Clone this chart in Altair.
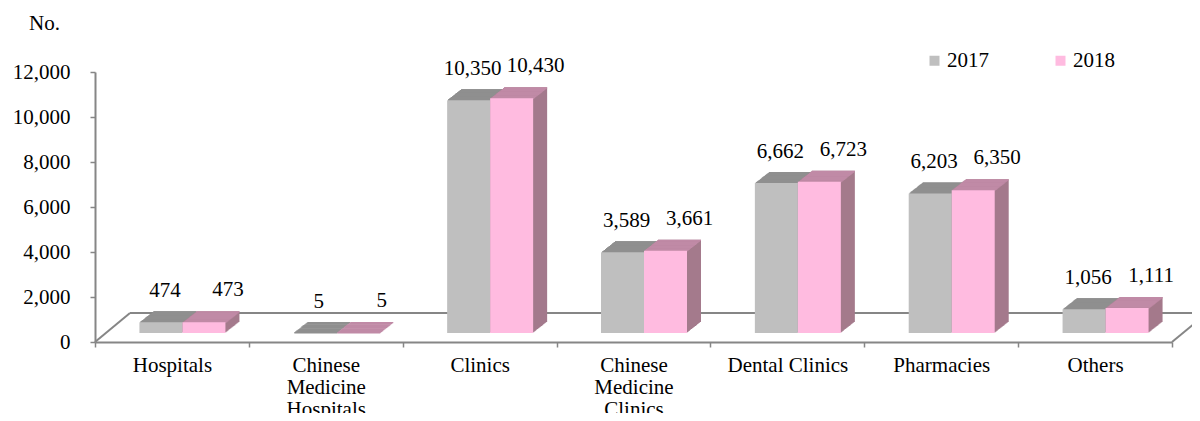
import altair as alt
import pandas as pd

# ---- data ----
categories = ["Hospitals", "Chinese\nMedicine\nHospitals", "Clinics",
              "Chinese\nMedicine\nClinics", "Dental Clinics", "Pharmacies", "Others"]
years = ["2017", "2018"]
values_2017 = [474, 5, 10350, 3589, 6662, 6203, 1056]
values_2018 = [473, 5, 10430, 3661, 6723, 6350, 1111]
y_ticks = [0, 2000, 4000, 6000, 8000, 10000, 12000]

# ---- styles ----
front_colors = ["#bfbfbf", "#ffbbe0"]
top_colors = ["#8f8f8f", "#c08aa6"]
side_colors = ["#7f7f7f", "#a47a8c"]
AXIS_COLOR = "#868686"
FONT = "Liberation Serif"
FS = 21

W, H = 1077, 270
BAR_W = 43
FRONT_X = [-11, 32]      # front-face centre offset from category centre (px)
LABEL_DX = [-7, 56]
LABEL_DY = [-34, -35]
LIFT = 9                 # bars stand in the middle of the floor depth
DEPTH_X, DEPTH_Y, STEPS = 14, 11, 14
FLOOR_DX, FLOOR_DY = 35, 29

rows = []
for c, a, b in zip(categories, values_2017, values_2018):
    rows.append({"category": c, "year": "2017", "value": a})
    rows.append({"category": c, "year": "2018", "value": b})
df = pd.DataFrame(rows)

x_enc = alt.X(
    "category:N", sort=categories,
    scale=alt.Scale(paddingInner=0, paddingOuter=0),
    axis=alt.Axis(title=None, labelAngle=0,
                  labelExpr="isValid(datum.value) ? split(datum.value, '\\n') : ''",
                  labelLineHeight=22, labelFont=FONT, labelFontSize=FS, labelColor="black",
                  labelBaseline="top", labelPadding=7, tickBand="extent", tickSize=5,
                  tickColor=AXIS_COLOR, tickWidth=1.5, domainColor=AXIS_COLOR, domainWidth=2,
                  labelLimit=300),
)
y_enc = alt.Y(
    "value:Q",
    scale=alt.Scale(domain=[0, 12000], nice=False, zero=True),
    axis=alt.Axis(values=y_ticks, format=",d", grid=False, labelFont=FONT, labelFontSize=FS,
                  labelColor="black", labelPadding=20, tickSize=5, tickColor=AXIS_COLOR,
                  tickWidth=1.5, domainColor=AXIS_COLOR, domainWidth=2,
                  title="No.", titleAngle=0, titleX=-51, titleY=-43, titleAlign="center",
                  titleBaseline="alphabetic", titleFont=FONT, titleFontSize=FS,
                  titleFontWeight="normal", titleColor="black"),
)

one = pd.DataFrame({"d": [0]})
floor_style = dict(color=AXIS_COLOR, strokeWidth=2)
floor = alt.layer(
    alt.Chart(one).mark_rule(**floor_style).encode(
        x=alt.value(FLOOR_DX), x2=alt.value(W + 60),
        y=alt.value(H - FLOOR_DY)),
    alt.Chart(one).mark_rule(**floor_style).encode(
        x=alt.value(0), x2=alt.value(FLOOR_DX),
        y=alt.value(H), y2=alt.value(H - FLOOR_DY)),
    alt.Chart(one).mark_rule(**floor_style).encode(
        x=alt.value(W), x2=alt.value(W + FLOOR_DX),
        y=alt.value(H), y2=alt.value(H - FLOOR_DY)),
)

layers = [floor]
ddx = DEPTH_X / STEPS
ddy = DEPTH_Y / STEPS
for i, yr in enumerate(years):
    base = alt.Chart(df).transform_filter(alt.datum.year == yr)
    # side (extrusion)
    for k in range(STEPS, 0, -1):
        off = -LIFT - k * ddy
        layers.append(base.mark_bar(width=BAR_W, color=side_colors[i],
                                    xOffset=FRONT_X[i] + k * ddx,
                                    yOffset=off, y2Offset=off).encode(
            x=x_enc, y=y_enc, y2=alt.datum(0)))
    # top face
    for k in range(STEPS, 0, -1):
        layers.append(base.mark_bar(width=BAR_W, color=top_colors[i],
                                    xOffset=FRONT_X[i] + k * ddx,
                                    yOffset=-LIFT - k * ddy,
                                    y2Offset=-LIFT - (k - 1) * ddy + 0.6).encode(
            x=x_enc, y=y_enc, y2="value:Q"))
    # front face
    layers.append(base.mark_bar(width=BAR_W, xOffset=FRONT_X[i],
                                yOffset=-LIFT, y2Offset=-LIFT).encode(
        x=x_enc, y=y_enc, y2=alt.datum(0),
        color=alt.Color("year:N", scale=alt.Scale(domain=years, range=front_colors),
                        legend=alt.Legend(title=None, orient="none", legendX=829, legendY=-22,
                                          direction="horizontal", symbolType="square",
                                          symbolSize=100, symbolStrokeWidth=0,
                                          labelFont=FONT, labelFontSize=FS, labelColor="black",
                                          labelOffset=2, columnPadding=61, padding=0))))

for i, yr in enumerate(years):
    layers.append(alt.Chart(df).transform_filter(alt.datum.year == yr).mark_text(
        font=FONT, fontSize=FS, color="black", baseline="alphabetic", align="center",
        dx=LABEL_DX[i], dy=LABEL_DY[i]).encode(
        x=x_enc, y=y_enc, text=alt.Text("value:Q", format=",d")))

chart = alt.layer(*layers).properties(
    width=W, height=H,
    autosize=alt.AutoSizeParams(type="none"),
    padding={"left": 87, "top": 64, "right": 20, "bottom": 71},
).configure_view(stroke=None).resolve_scale(color="shared")

chart.save("out.html", embed_options={"renderer": "svg", "actions": False})
